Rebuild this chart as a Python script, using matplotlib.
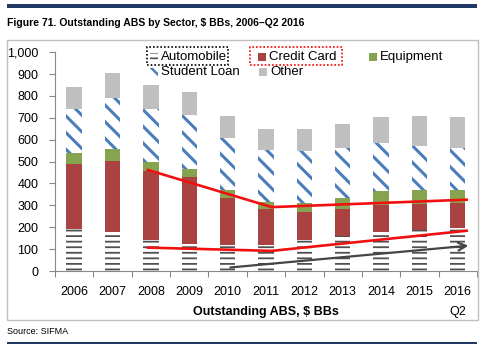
import numpy as np
import matplotlib
matplotlib.use('Agg')
import matplotlib.pyplot as plt
from matplotlib.patches import Rectangle

plt.rcParams['font.family'] = ['Liberation Sans', 'DejaVu Sans']

years = ['2006', '2007', '2008', '2009', '2010', '2011', '2012', '2013', '2014', '2015', '2016\nQ2']
# stacked component values ($ BBs)
auto = [194, 178, 140, 125, 117, 117, 140, 160, 178, 186, 198]
credit = [294, 325, 316, 305, 218, 165, 130, 125, 125, 122, 113]
equip = [52, 55, 43, 38, 34, 34, 41, 50, 63, 61, 61]
student = [200, 233, 241, 243, 241, 239, 238, 229, 220, 201, 192]
other = [99, 112, 109, 105, 98, 95, 98, 107, 116, 138, 141]

# hand-drawn trend annotations
upper_x = [1.92, 5.15, 10.23]
upper_y = [462, 292, 326]
lower_x = [1.92, 5.15, 10.23]
lower_y = [107, 92, 184]
arrow_x = [4.0, 10.35]
arrow_y = [15, 117]

W, H = 484, 350
fig = plt.figure(figsize=(4.84, 3.5), dpi=100)
ax = fig.add_axes([0.1136, 0.2257, 0.8719, 0.6251])

def px(xp, yp):
    return (xp / W, 1 - yp / H)

x = np.arange(len(years))
w = 0.4
b = np.zeros(len(years))

plt.rcParams['hatch.linewidth'] = 1.3
ax.bar(x, auto, w, bottom=b, color='white', edgecolor='#505050', hatch='---', linewidth=0)
b += auto
ax.bar(x, credit, w, bottom=b, color='#A94240', linewidth=0)
b += credit
ax.bar(x, equip, w, bottom=b, color='#86A44F', linewidth=0)
b += equip
plt.rcParams['hatch.linewidth'] = 2.2
ax.bar(x, student, w, bottom=b, color='white', edgecolor='#4A7EBB', hatch='\\\\', linewidth=0)
b += student
ax.bar(x, other, w, bottom=b, color='#BFBFBF', linewidth=0)

ax.plot(upper_x, upper_y, color='#F01010', lw=1.9, zorder=5)
ax.plot(lower_x, lower_y, color='#F01010', lw=1.9, zorder=5)
ax.annotate('', xy=(arrow_x[1], arrow_y[1]), xytext=(arrow_x[0], arrow_y[0]),
            arrowprops=dict(arrowstyle='->', color='#454545', lw=1.6, mutation_scale=14), zorder=5)

ax.set_xlim(-0.5, len(years) - 0.5)
ax.set_ylim(0, 1000)
ax.set_yticks(range(0, 1001, 100))
ax.set_yticklabels(['0', '100', '200', '300', '400', '500', '600', '700', '800', '900', '1,000'], fontsize=9)
ax.set_xticks(np.arange(-0.5, len(years), 1))
ax.set_xticklabels([])
ax.set_xticks(x, minor=True)
ax.set_xticklabels(years, minor=True, fontsize=9, va='top', linespacing=1.85)
ax.tick_params(axis='x', which='minor', length=0, pad=11)
ax.tick_params(axis='x', which='major', length=4, color='#888888', direction='out')
ax.tick_params(axis='y', length=4, color='#888888', pad=8)
for s in ['top', 'right']:
    ax.spines[s].set_visible(False)
for s in ['left', 'bottom']:
    ax.spines[s].set_color('#888888')
fig.text(*px(266, 312), 'Outstanding ABS, $ BBs', fontsize=9, fontweight='bold', va='center', ha='center')

# legend, laid out by hand
legend_items = [
    ('Automobile', 150, 57, dict(facecolor='white', edgecolor='#505050', hatch='---', linewidth=0), 1.2),
    ('Credit Card', 258, 57, dict(facecolor='#A94240', linewidth=0), 1.0),
    ('Equipment', 369, 57, dict(facecolor='#86A44F', linewidth=0), 1.0),
    ('Student Loan', 150, 72, dict(facecolor='white', edgecolor='#4A7EBB', hatch='\\\\', linewidth=0), 1.8),
    ('Other', 259, 72, dict(facecolor='#BFBFBF', linewidth=0), 1.0),
]
for label, lx, ly, style, hl in legend_items:
    plt.rcParams['hatch.linewidth'] = hl
    fig.patches.append(Rectangle(px(lx, ly + 4), 8 / W, 8 / H, transform=fig.transFigure, **style))
    fig.text(*px(lx + 11, ly), label, fontsize=9.5, va='center', ha='left')

# dotted boxes around two legend entries
fig.patches.append(Rectangle(px(147, 65), 81 / W, 18 / H, transform=fig.transFigure,
                             fill=False, ec='black', ls=(0, (1, 1.2)), lw=1.2))
fig.patches.append(Rectangle(px(250, 65), 92 / W, 18 / H, transform=fig.transFigure,
                             fill=False, ec='red', ls=(0, (1, 1.2)), lw=1.2))

# frame, rules and captions
fig.patches.append(Rectangle(px(7, 320), 471 / W, 280 / H, transform=fig.transFigure,
                             fill=False, ec='#BFBFBF', lw=1))
fig.patches.append(Rectangle(px(7, 8), 470 / W, 3.5 / H, transform=fig.transFigure,
                             color='#1F3864', lw=0))
fig.patches.append(Rectangle(px(7, 344), 470 / W, 2 / H, transform=fig.transFigure,
                             color='#1F3864', lw=0))
fig.text(*px(7, 23), 'Figure 71. Outstanding ABS by Sector, $ BBs, 2006\u2013Q2 2016',
         fontsize=7.5, fontweight='bold', va='center', ha='left')
fig.text(*px(7, 332), 'Source: SIFMA', fontsize=6.5, va='center', ha='left')

fig.savefig('out.png', dpi=100)
